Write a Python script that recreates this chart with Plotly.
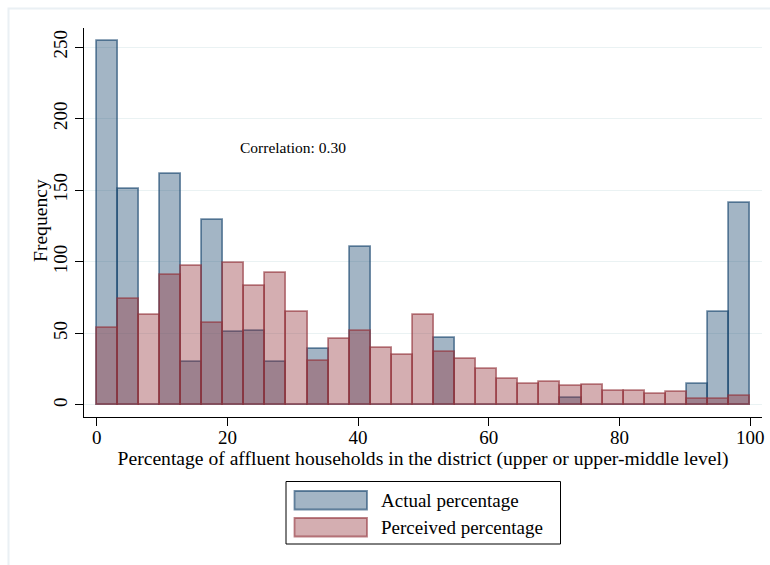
import numpy as np
import plotly.graph_objects as go

# ---- data ----
bin_lo, bin_hi, n_bins = 0.0, 100.0, 31
actual = [254, 151, 0, 161, 30, 129, 51, 52, 30, 0, 39, 0, 110, 0, 0, 0,
          47, 0, 0, 0, 0, 0, 5, 0, 0, 0, 0, 0, 15, 65, 141]
perceived = [54, 74, 63, 91, 97, 57, 99, 83, 92, 65, 31, 46, 52, 40, 35, 63,
             37, 32, 25, 18, 15, 16, 13, 14, 10, 10, 8, 9, 4, 4, 6]
series_names = ["Actual percentage", "Perceived percentage"]
x_ticks = [0, 20, 40, 60, 80, 100]
y_ticks = [0, 50, 100, 150, 200, 250]
corr_label = "Correlation: 0.30"
x_title = "Percentage of affluent households in the district (upper or upper-middle level)"
y_title = "Frequency"

edges = np.linspace(bin_lo, bin_hi, n_bins + 1)
centers = (edges[:-1] + edges[1:]) / 2
bw = edges[1] - edges[0]

W, H = 770, 565
L, R, T, B = 84, 8, 28, 148
pw, ph = W - L - R, H - T - B

def px(x):  # window pixel -> paper
    return (x - L) / pw

def py(y):
    return (H - B - y) / ph

FONT = "Liberation Serif"
blue_fill = "rgba(26,71,111,0.40)"
blue_line = "rgba(26,71,111,0.62)"
red_fill = "rgba(147,52,60,0.40)"
red_line = "rgba(147,52,60,0.62)"

fig = go.Figure()
fig.add_trace(go.Bar(x=centers, y=actual, width=bw, name=series_names[0],
                     marker=dict(color=blue_fill, line=dict(color=blue_line, width=1.8)),
                     showlegend=False))
fig.add_trace(go.Bar(x=centers, y=perceived, width=bw, name=series_names[1],
                     marker=dict(color=red_fill, line=dict(color=red_line, width=1.8)),
                     showlegend=False))

fig.add_annotation(x=30, y=180, xref="x", yref="y", text=corr_label, showarrow=False,
                   font=dict(family=FONT, size=15.5, color="black"))

# y axis title
fig.add_annotation(x=px(40), y=py(221), xref="paper", yref="paper", text=y_title,
                   showarrow=False, textangle=-90, xanchor="center", yanchor="middle",
                   font=dict(family=FONT, size=19.6, color="black"))

shapes = []
# outer light frame
shapes.append(dict(type="rect", xref="paper", yref="paper",
                   x0=px(8.5), x1=px(790), y0=py(590), y1=py(8.5),
                   line=dict(color="#eaf0f4", width=2), layer="below"))
# legend box
shapes.append(dict(type="rect", xref="paper", yref="paper",
                   x0=px(286), x1=px(560.5), y0=py(544), y1=py(481.5),
                   line=dict(color="black", width=1), fillcolor="white"))
sym = [(491, 509.5, blue_fill, blue_line), (518, 536.5, red_fill, red_line)]
for (y0, y1, fc, lc), name in zip(sym, series_names):
    shapes.append(dict(type="rect", xref="paper", yref="paper",
                       x0=px(294.5), x1=px(367), y0=py(y1), y1=py(y0),
                       line=dict(color=lc, width=1.8), fillcolor=fc))
    fig.add_annotation(x=px(379), y=py((y0 + y1) / 2), xref="paper", yref="paper",
                       text=name, showarrow=False, xanchor="left", yanchor="middle",
                       font=dict(family=FONT, size=19, color="black"))

fig.update_layout(
    width=W, height=H, margin=dict(l=L, r=R, t=T, b=B, autoexpand=False),
    paper_bgcolor="white", plot_bgcolor="white",
    barmode="overlay", bargap=0,
    font=dict(family=FONT, size=19, color="black"),
    shapes=shapes,
    xaxis=dict(range=[-1.94, 101.8], tickvals=x_ticks, ticks="outside", ticklen=8,
               tickcolor="black", showline=True, linecolor="black", linewidth=1,
               showgrid=False, zeroline=False, automargin=False,
               ticklabelstandoff=-5,
               tickfont=dict(family=FONT, size=19),
               title=dict(text=x_title, font=dict(family=FONT, size=19.6), standoff=4)),
    yaxis=dict(range=[-8.4, 263.3], tickvals=y_ticks, ticks="outside", ticklen=8,
               tickcolor="black", showline=True, linecolor="black", linewidth=1,
               showgrid=True, gridcolor="#eaf2f3", gridwidth=1, zeroline=False,
               automargin=False,
               tickangle=-90, tickfont=dict(family=FONT, size=19)),
)

fig.write_html("out.html",
               config={"displayModeBar": False},
               post_script="document.body.style.margin='0';document.body.style.overflow='hidden';")
